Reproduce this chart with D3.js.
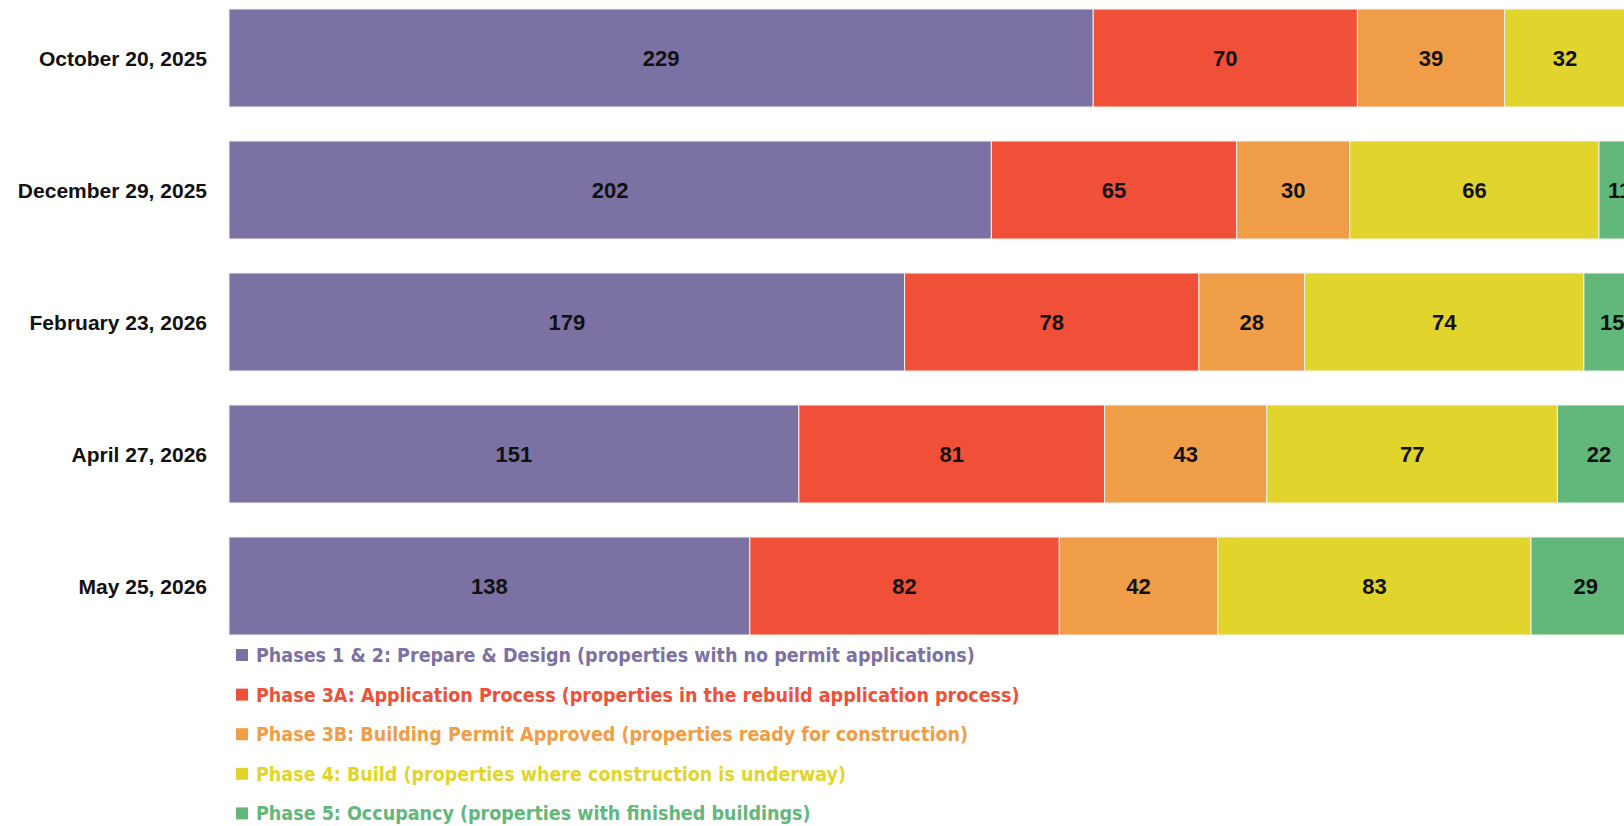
<!DOCTYPE html>
<html>
<head>
<meta charset="utf-8">
<script src="https://cdn.jsdelivr.net/npm/d3@7"></script>
<style>
  body { margin: 0; background: #fff; }
  svg { display: block; }
</style>
</head>
<body>
<div id="chart"></div>
<script>
// dates shown on the left, top to bottom
var dates = ["October 20, 2025", "December 29, 2025", "February 23, 2026", "April 27, 2026", "May 25, 2026"];

var phases = [
  "Phases 1 & 2: Prepare & Design (properties with no permit applications)",
  "Phase 3A: Application Process (properties in the rebuild application process)",
  "Phase 3B: Building Permit Approved (properties ready for construction)",
  "Phase 4: Build (properties where construction is underway)",
  "Phase 5: Occupancy (properties with finished buildings)"
];
var phaseColors = ["#7b71a3", "#f05037", "#f09d48", "#e1d52d", "#62b77a"];

// counts per date, one array per phase
var prepareDesign = [229, 202, 179, 151, 138];
var applicationProcess = [70, 65, 78, 81, 82];
var permitApproved = [39, 30, 28, 43, 42];
var build = [32, 66, 74, 77, 83];
var occupancy = [4, 11, 15, 22, 29]; // first one is cut off at the edge, guessed

var series = [prepareDesign, applicationProcess, permitApproved, build, occupancy];

var width = 1624, height = 826;

var svg = d3.select("#chart").append("svg")
  .attr("width", width)
  .attr("height", height);

var yScale = d3.scaleBand()
  .domain(dates)
  .range([9, 9 + 132 * 4 + 98])
  .paddingInner(34 / 132)
  .paddingOuter(0)
  .align(0);

// N.B. chart runs off the right edge, scale picked so it matches
var xScale = d3.scaleLinear().domain([0, 374]).range([229, 229 + 374 * 3.774]);

var rows = dates.map(function(d, i) {
  var x0 = 0;
  return series.map(function(s, k) {
    var seg = { date: d, phase: k, value: s[i], x0: x0, x1: x0 + s[i] };
    x0 += s[i];
    return seg;
  });
});

var segs = [].concat.apply([], rows);

svg.selectAll(".seg")
  .data(segs)
  .enter()
  .append("rect")
    .attr("class", "seg")
    .attr("x", function(d) { return xScale(d.x0); })
    .attr("y", function(d) { return yScale(d.date); })
    .attr("width", function(d) { return xScale(d.x1) - xScale(d.x0); })
    .attr("height", yScale.bandwidth())
    .style("fill", function(d) { return phaseColors[d.phase]; })
    .style("stroke", "#f4f1ee")
    .style("stroke-width", 1);

svg.selectAll(".val")
  .data(segs)
  .enter()
  .append("text")
    .attr("class", "val")
    .attr("x", function(d) { return (xScale(d.x0) + xScale(d.x1)) / 2; })
    .attr("y", function(d) { return yScale(d.date) + yScale.bandwidth() / 2; })
    .attr("dy", "0.36em")
    .attr("text-anchor", "middle")
    .style("font-family", "'Liberation Sans', Arial, sans-serif")
    .style("font-weight", "bold")
    .style("font-size", "22px")
    .style("fill", "#111")
    .text(function(d) { return d.value; });

// date labels
svg.selectAll(".date")
  .data(dates)
  .enter()
  .append("text")
    .attr("class", "date")
    .attr("x", 207)
    .attr("y", function(d) { return yScale(d) + yScale.bandwidth() / 2; })
    .attr("dy", "0.36em")
    .attr("text-anchor", "end")
    .style("font-family", "'Liberation Sans', Arial, sans-serif")
    .style("font-weight", "bold")
    .style("font-size", "21px")
    .style("fill", "#111")
    .text(function(d) { return d; });

// legend
var legend = svg.selectAll(".legend")
  .data(phases)
  .enter()
  .append("g")
    .attr("class", "legend")
    .attr("transform", function(d, i) { return "translate(236," + (655 + i * 39.6) + ")"; });

legend.append("rect")
  .attr("x", 0)
  .attr("y", -6)
  .attr("width", 12)
  .attr("height", 12)
  .style("fill", function(d, i) { return phaseColors[i]; });

legend.append("text")
  .attr("x", 20)
  .attr("y", 0)
  .attr("dy", "0.36em")
  .style("font-family", "'Liberation Sans Narrow', 'DejaVu Sans Condensed', sans-serif")
  .style("font-weight", "bold")
  .style("font-size", "19.5px")
  .style("fill", function(d, i) { return phaseColors[i]; })
  .text(function(d) { return d; });
</script>
</body>
</html>
